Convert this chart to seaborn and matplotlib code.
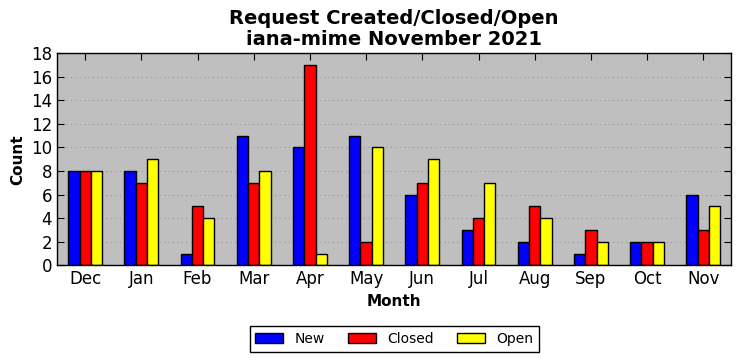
import pandas as pd
import seaborn as sns
import matplotlib.pyplot as plt

months = ['Dec', 'Jan', 'Feb', 'Mar', 'Apr', 'May', 'Jun', 'Jul', 'Aug', 'Sep', 'Oct', 'Nov']
new = [8, 8, 1, 11, 10, 11, 6, 3, 2, 1, 2, 6]
closed = [8, 7, 5, 7, 17, 2, 7, 4, 5, 3, 2, 3]
opened = [8, 9, 4, 8, 1, 10, 9, 7, 4, 2, 2, 5]
series = ['New', 'Closed', 'Open']
colors = ['#0000ff', '#ff0000', '#ffff00']

df = pd.DataFrame({'Month': months * 3,
                   'Count': new + closed + opened,
                   'Type': sum([[s] * len(months) for s in series], [])})

plt.rcParams['font.family'] = ['DejaVu Sans']
fig, ax = plt.subplots(figsize=(7.41, 3.61), dpi=100)
ax.set_facecolor('#bfbfbf')
sns.barplot(data=df, x='Month', y='Count', hue='Type', palette=colors,
            width=0.6, edgecolor='black', linewidth=1, saturation=1, ax=ax, zorder=2)

ax.set_ylim(0, 18)
ax.set_xlim(-0.5, 11.5)
ax.set_yticks(range(0, 19, 2))
ax.yaxis.grid(True, linestyle=(0, (1, 3)), color='#999999', linewidth=0.8, zorder=0)
ax.set_axisbelow(True)
ax.tick_params(direction='in', top=True, right=True, labelsize=12, length=5)
for s in ax.spines.values():
    s.set_color('black')
    s.set_linewidth(1)
ax.set_xlabel('Month', fontsize=11, fontweight='bold')
ax.set_ylabel('Count', fontsize=11, fontweight='bold')
ax.set_title('Request Created/Closed/Open\niana-mime November 2021', fontsize=14, fontweight='bold',
             linespacing=1.1)
leg = ax.legend(loc='upper center', bbox_to_anchor=(0.5, -0.255), ncol=3, fancybox=False,
                edgecolor='black', fontsize=10, columnspacing=1.7, handlelength=2.0,
                handleheight=0.7, framealpha=1)
leg.get_frame().set_linewidth(1)
fig.subplots_adjust(left=0.077, right=0.987, top=0.853, bottom=0.265)
fig.savefig('out.png', dpi=100)
